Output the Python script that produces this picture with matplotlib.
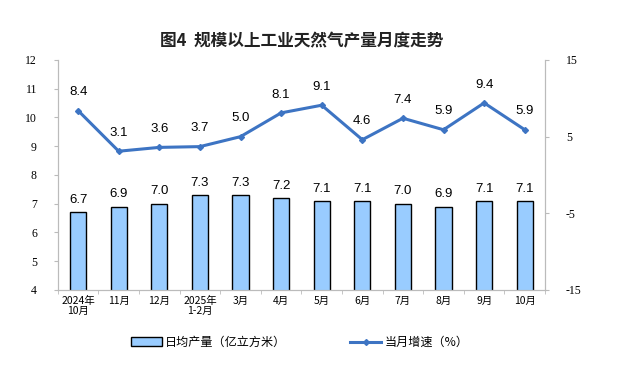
import matplotlib.pyplot as plt
import numpy as np

plt.rcParams['font.family'] = ['Noto Sans CJK SC', 'DejaVu Sans']
plt.rcParams['axes.unicode_minus'] = False

# data
months = ['2024年\n10月', '11月', '12月', '2025年\n1-2月', '3月', '4月',
          '5月', '6月', '7月', '8月', '9月', '10月']
daily_output = [6.7, 6.9, 7.0, 7.3, 7.3, 7.2, 7.1, 7.1, 7.0, 6.9, 7.1, 7.1]
growth = [8.4, 3.1, 3.6, 3.7, 5.0, 8.1, 9.1, 4.6, 7.4, 5.9, 9.4, 5.9]

bar_color = '#99ccff'
line_color = '#3d74c3'
num_font = 'Liberation Sans'
tick_font = 'Liberation Serif'

fig = plt.figure(figsize=(6.42, 3.68), dpi=100)
ax = fig.add_axes([0.090, 0.212, 0.759, 0.625])
ax2 = ax.twinx()

x = np.arange(len(months))
bars = ax.bar(x, daily_output, width=0.4, color=bar_color, edgecolor='black',
              linewidth=1.0, label='日均产量（亿立方米）', zorder=2)
for xi, v in zip(x, daily_output):
    ax.text(xi, v + 0.22, f'{v:.1f}', ha='center', va='bottom',
            fontsize=9.5, family=num_font)

ln, = ax2.plot(x, growth, color=line_color, linewidth=2.2, marker='D',
               markersize=3, label='当月增速（%）', zorder=3)
for xi, v in zip(x, growth):
    ax2.text(xi, v + 1.6, f'{v:.1f}', ha='center', va='bottom',
             fontsize=9.5, family=num_font)

ax.set_xlim(-0.5, len(months) - 0.5)
ax.set_ylim(4, 12)
ax.set_yticks(range(4, 13))
ax2.set_ylim(-15, 15)
ax2.set_yticks([-15, -5, 5, 15])

ax.set_xticks(x)
ax.set_xticklabels(months, fontsize=7.5, linespacing=1.1)
ax.set_xticks(np.arange(-0.5, len(months), 1), minor=True)
ax.tick_params(axis='x', which='major', length=0, pad=4)
ax.tick_params(axis='x', which='minor', length=3, color='#bbbbbb', direction='out')

for a in (ax, ax2):
    a.tick_params(axis='y', length=3, color='#bbbbbb', labelsize=8.5)
    for lbl in a.get_yticklabels():
        lbl.set_family(tick_font)
    for s in a.spines.values():
        s.set_color('#bbbbbb')
        s.set_linewidth(0.8)
    a.spines['top'].set_visible(False)
ax.tick_params(axis='y', pad=12)
ax2.tick_params(axis='y', pad=12)

fig.text(0.47, 0.875, '图4  规模以上工业天然气产量月度走势', ha='center',
         fontsize=12, fontweight='bold', color='#222222')

fig.legend(handles=[bars, ln], loc='center', bbox_to_anchor=(0.467, 0.07),
           ncol=2, frameon=False, fontsize=8.7, columnspacing=5.3,
           handlelength=2.5, handletextpad=0.3)

fig.savefig('out.png', dpi=100)
